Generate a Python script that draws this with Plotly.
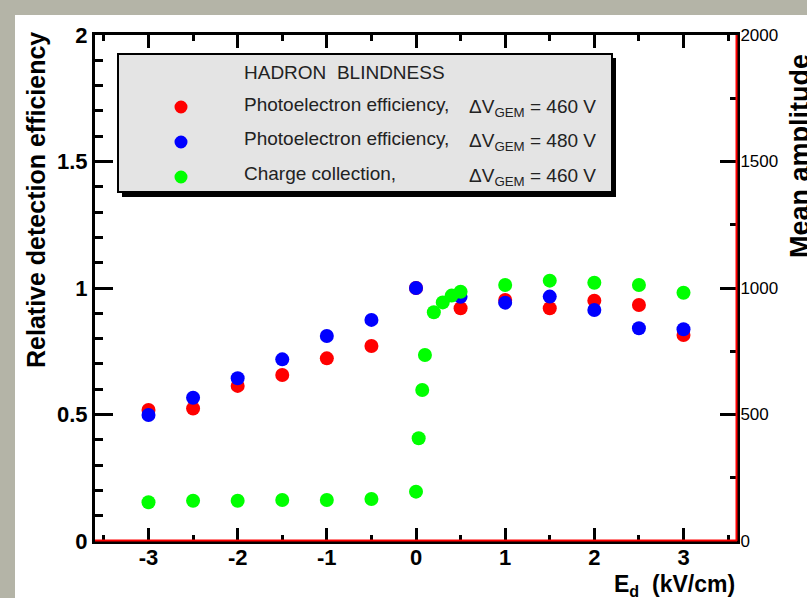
import plotly.graph_objects as go

# ---------------- data ----------------
x_pe = [-3, -2.5, -2, -1.5, -1, -0.5, 0, 0.5, 1, 1.5, 2, 2.5, 3]
eff_460 = [0.518, 0.524, 0.613, 0.656, 0.722, 0.771, 1.0, 0.920, 0.953, 0.920, 0.950, 0.933, 0.814]
eff_480 = [0.498, 0.566, 0.643, 0.718, 0.810, 0.874, 1.0, 0.965, 0.942, 0.966, 0.913, 0.841, 0.837]

x_cc = [-3, -2.5, -2, -1.5, -1, -0.5, 0, 0.03, 0.07, 0.1, 0.2, 0.3, 0.4, 0.5, 1, 1.5, 2, 2.5, 3]
amp_460 = [153, 159, 159, 162, 162, 166, 195, 406, 597, 735, 904, 943, 970, 985, 1012, 1029, 1021, 1012, 981]

x_tickvals = [-3, -2, -1, 0, 1, 2, 3]
x_ticktext = ["-3", "-2", "-1", "0", "1", "2", "3"]
y_tickvals = [0, 0.5, 1, 1.5, 2]
y_ticktext = ["0", "0.5", "1", "1.5", "2"]
y2_tickvals = [0, 500, 1000, 1500, 2000]
y2_ticktext = ["0", "500", "1000", "1500", "2000"]

legend_header = "HADRON  BLINDNESS"
legend_names = ["Photoelectron efficiency,", "Photoelectron efficiency,", "Charge collection,"]
legend_dv = ["460", "480", "460"]
colors = ["#ff0000", "#0000ff", "#00ff00"]

# ---------------- geometry ----------------
W, H = 807, 598
L, R, T, B = 95, 737, 35, 541  # plot area in pixels


def px(x):
    return (x - L) / (R - L)


def py(y):
    return (B - y) / (B - T)


FONT = "Liberation Sans, Arial, sans-serif"

fig = go.Figure()
fig.add_trace(go.Scatter(x=x_pe, y=eff_460, mode="markers",
                         marker=dict(color=colors[0], size=14, line=dict(width=0)),
                         showlegend=False, yaxis="y"))
fig.add_trace(go.Scatter(x=x_pe, y=eff_480, mode="markers",
                         marker=dict(color=colors[1], size=14, line=dict(width=0)),
                         showlegend=False, yaxis="y"))
fig.add_trace(go.Scatter(x=x_cc, y=amp_460, mode="markers",
                         marker=dict(color=colors[2], size=14, line=dict(width=0)),
                         showlegend=False, yaxis="y2"))

shapes = []
# white canvas
shapes.append(dict(type="rect", xref="paper", yref="paper",
                   x0=px(15), x1=px(830), y0=py(620), y1=py(15),
                   fillcolor="white", line=dict(width=0), layer="below"))
# red lines along bottom and right axis
shapes.append(dict(type="line", xref="paper", yref="paper",
                   x0=0, x1=1, y0=py(B - 0.5), y1=py(B - 0.5),
                   line=dict(color="#ff0000", width=2), layer="above"))
shapes.append(dict(type="line", xref="paper", yref="paper",
                   x0=px(R - 0.5), x1=px(R - 0.5), y0=0, y1=1,
                   line=dict(color="#ff0000", width=2), layer="above"))
# legend shadow and box
shapes.append(dict(type="rect", xref="paper", yref="paper",
                   x0=px(122), x1=px(616), y0=py(197), y1=py(58),
                   fillcolor="black", line=dict(width=0), layer="above"))
shapes.append(dict(type="rect", xref="paper", yref="paper",
                   x0=px(118), x1=px(612), y0=py(192), y1=py(54),
                   fillcolor="#e4e4e4", line=dict(color="black", width=2), layer="above"))
# legend swatches
for i, c in enumerate(colors):
    yc = [107, 142, 177][i]
    shapes.append(dict(type="circle", xref="paper", yref="paper",
                       xsizemode="pixel", ysizemode="pixel",
                       xanchor=px(181), yanchor=py(yc),
                       x0=-6.5, x1=6.5, y0=-6.5, y1=6.5,
                       fillcolor=c, line=dict(width=0), layer="above"))

annotations = []
annotations.append(dict(text=legend_header, xref="paper", yref="paper",
                        x=px(242), y=py(72), xanchor="left", yanchor="middle",
                        showarrow=False, font=dict(family=FONT, size=19, color="#222222")))
for i, name in enumerate(legend_names):
    yc = [104, 138, 173][i]
    annotations.append(dict(text=name, xref="paper", yref="paper",
                            x=px(242), y=py(yc), xanchor="left", yanchor="middle",
                            showarrow=False, font=dict(family=FONT, size=19, color="#222222")))
    annotations.append(dict(text="ΔV<sub>GEM</sub> = " + legend_dv[i] + " V",
                            xref="paper", yref="paper",
                            x=px(598), y=py(yc + 4), xanchor="right", yanchor="middle",
                            showarrow=False, font=dict(family=FONT, size=19, color="#222222")))

# axis titles
annotations.append(dict(text="Relative detection efficiency", xref="paper", yref="paper",
                        x=px(36), y=py(30), xanchor="center", yanchor="top", textangle=-90,
                        showarrow=False, font=dict(family=FONT, size=25, color="black", weight="bold")))
annotations.append(dict(text="Mean amplitude", xref="paper", yref="paper",
                        x=px(800), y=py(52), xanchor="center", yanchor="top", textangle=-90,
                        showarrow=False, font=dict(family=FONT, size=27, color="black", weight="bold")))
annotations.append(dict(text="E<sub>d</sub>  (kV/cm)", xref="paper", yref="paper",
                        x=1.0, y=py(585), xanchor="right", yanchor="middle",
                        showarrow=False, font=dict(family=FONT, size=23, color="black", weight="bold")))

fig.update_layout(
    width=W, height=H,
    margin=dict(l=L, r=W - R, t=T, b=H - B, pad=0),
    paper_bgcolor="#b4b4a7",
    plot_bgcolor="white",
    showlegend=False,
    shapes=shapes,
    annotations=annotations,
    xaxis=dict(range=[-3.6, 3.6], tickvals=x_tickvals, ticktext=x_ticktext,
               ticks="inside", ticklen=13, tickwidth=3, tickcolor="black",
               minor=dict(dtick=0.5, tick0=0, ticks="inside", ticklen=6, tickwidth=3, tickcolor="black"),
               showline=True, linewidth=3, linecolor="black", mirror="ticks",
               showgrid=False, zeroline=False, ticklabelstandoff=-5,
               tickfont=dict(family=FONT, size=22, color="black", weight="bold")),
    yaxis=dict(range=[0, 2], tickvals=y_tickvals, ticktext=y_ticktext,
               ticks="inside", ticklen=18, tickwidth=3, tickcolor="black",
               minor=dict(dtick=0.1, tick0=0, ticks="inside", ticklen=8, tickwidth=3, tickcolor="black"),
               showline=True, linewidth=3, linecolor="black", mirror=True,
               showgrid=False, zeroline=False,
               tickfont=dict(family=FONT, size=22, color="black", weight="bold")),
    yaxis2=dict(range=[0, 2000], tickvals=y2_tickvals, ticktext=y2_ticktext,
                overlaying="y", side="right",
                ticks="inside", ticklen=17, tickwidth=3, tickcolor="black",
                minor=dict(dtick=250, tick0=0, ticks="inside", ticklen=7, tickwidth=3, tickcolor="black"),
                showline=True, linewidth=3, linecolor="black",
                showgrid=False, zeroline=False, ticklabelstandoff=-3,
                tickfont=dict(family=FONT, size=17, color="black")),
)

fig.write_html(
    "out.html",
    config={"displayModeBar": False},
    post_script="document.body.style.margin='0';document.body.style.overflow='hidden';",
)
